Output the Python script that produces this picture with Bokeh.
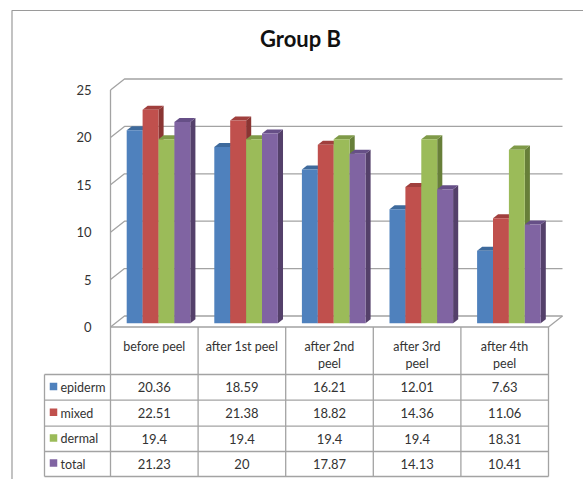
from bokeh.plotting import figure
from bokeh.models import Range1d, LinearAxis, FixedTicker
from bokeh.core.properties import value
from bokeh.embed import file_html
from bokeh.resources import INLINE

title = "Group B"
categories = ["before peel", "after 1st peel", "after 2nd\npeel", "after 3rd\npeel", "after 4th\npeel"]
series_names = ["epiderm", "mixed", "dermal", "total"]
epiderm = [20.36, 18.59, 16.21, 12.01, 7.63]
mixed = [22.51, 21.38, 18.82, 14.36, 11.06]
dermal = [19.4, 19.4, 19.4, 19.4, 18.31]
total = [21.23, 20, 17.87, 14.13, 10.41]
y_ticks = [0, 5, 10, 15, 20, 25]
front_colors = ["#4F81BD", "#C0504D", "#9BBB59", "#8064A2"]
top_colors = ["#3E6A9C", "#A03F3D", "#7F9A48", "#664F87"]
side_colors = ["#385D8A", "#8A3533", "#677F39", "#54406A"]

series = [epiderm, mixed, dermal, total]
W, H = 583, 479
PAGE = 0
X0, PX_PER_CAT = 110.0, 87.6      # image px of the front plane
Y0, PX_PER_VAL = 326.5, 9.48
DEPTH_X = 14.0 / PX_PER_CAT       # 3-D wall offset in data units
DEPTH_Y = 11.0 / PX_PER_VAL
FONT = "Lato"
GRID = "#A3A3A3"
TXT = "#333333"

def fx(px):
    return (px - X0) / PX_PER_CAT

def fy(px):
    return (Y0 - px) / PX_PER_VAL

p = figure(width=W, height=H, output_backend="svg", toolbar_location=None,
           x_range=Range1d(fx(PAGE), fx(PAGE + W)), y_range=Range1d(fy(PAGE + H), fy(PAGE)),
           x_axis_location=None, y_axis_location=None, min_border=0,
           outline_line_color=None, background_fill_color="white", border_fill_color="white")
p.xgrid.visible = False
p.ygrid.visible = False

n = len(categories)

# outer frame of the chart area
p.line([fx(11.5), fx(11.5), fx(PAGE + W)], [fy(PAGE + H), fy(10), fy(10)], line_color="#9A9A9A", line_width=1.2)

# walls: gridlines on the back wall and diagonals on the side wall
for t in y_ticks:
    p.line([0, DEPTH_X, n + DEPTH_X], [t, t + DEPTH_Y, t + DEPTH_Y], line_color=GRID, line_width=1.3)
p.line([0, n, n + DEPTH_X], [0, 0, DEPTH_Y], line_color=GRID, line_width=1.3)
p.line([0, 0], [y_ticks[0], y_ticks[-1]], line_color=GRID, line_width=1.3)

# bars
D0, D1 = 0.345, 0.71
GROUP_LEFT = (126.2 - 110 - D0 * 14) / PX_PER_CAT
BAR_W = 15.9 / PX_PER_CAT
for c in range(n):
    for s, vals in enumerate(series):
        v = vals[c]
        l = c + GROUP_LEFT + s * BAR_W + D0 * DEPTH_X
        r = l + BAR_W
        b = D0 * DEPTH_Y
        top = v + b
        dx = (D1 - D0) * DEPTH_X
        dy = (D1 - D0) * DEPTH_Y
        p.patch([r, r + dx, r + dx, r], [b, b + dy, top + dy, top], fill_color=side_colors[s], line_color=None)
        p.patch([l, l + dx, r + dx, r], [top, top + dy, top + dy, top], fill_color=top_colors[s], line_color=None)
        p.quad(left=l, right=r, bottom=b, top=top, fill_color=front_colors[s], line_color=None)

# real value axis on the front-left edge
axis = LinearAxis(ticker=FixedTicker(ticks=y_ticks), fixed_location=0)
axis.axis_line_color = None
axis.major_tick_line_color = None
axis.minor_tick_line_color = None
axis.major_label_standoff = 13
axis.major_label_text_font = FONT
axis.major_label_text_font_size = "13px"
axis.major_label_text_color = TXT
p.add_layout(axis, "left")

# data table
row_px = [326.5, 374, 399.7, 425.7, 451, 476]
leg_px = 44
for c in range(n + 1):
    p.line([c, c], [fy(row_px[0]), fy(row_px[-1])], line_color=GRID, line_width=1.3)
p.line([fx(leg_px), fx(leg_px)], [fy(row_px[1]), fy(row_px[-1])], line_color=GRID, line_width=1.3)
for y in row_px[1:]:
    p.line([fx(leg_px), n], [fy(y), fy(y)], line_color=GRID, line_width=1.3)

centers = [c + 0.5 for c in range(n)]
p.text(centers, [fy(338.5)] * n, text=categories, text_font=value(FONT), text_font_size="12.5px",
       text_color=TXT, text_align="center", text_baseline="top", text_line_height=1.15)
for s, vals in enumerate(series):
    yc = fy((row_px[s + 1] + row_px[s + 2]) / 2)
    p.text(centers, [yc] * n, text=[f"{v:g}" for v in vals], text_font=value(FONT), text_font_size="13px",
           text_color=TXT, text_align="center", text_baseline="middle")
    p.scatter([fx(53)], [yc + 0.1], marker="square", size=7.5, fill_color=front_colors[s], line_color=None)
    p.text([fx(60)], [yc], text=[series_names[s]], text_font=value(FONT), text_font_size="12.5px",
           text_color=TXT, text_align="left", text_baseline="middle")

# title
p.text([fx(300)], [fy(37.5)], text=[title], text_font=value(FONT), text_font_size="22px",
       text_font_style="bold", text_color="#111111", text_align="center", text_baseline="middle")

open("out.html", "w").write(file_html(p, INLINE))
